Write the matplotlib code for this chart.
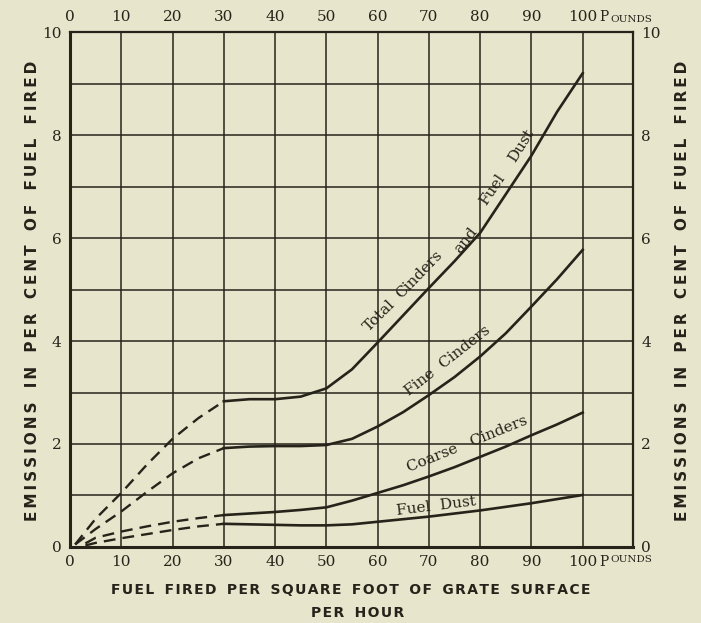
#Cinder and dust emissions against rate of firing.
from matplotlib import pyplot as plt

#Values.
x_dash = [1, 5, 10, 15, 20, 25, 30]
total_dash = [0.05, 0.55, 1.05, 1.6, 2.1, 2.5, 2.83]
fine_dash = [0.05, 0.35, 0.69, 1.07, 1.43, 1.72, 1.92]
x_dash_low = [3, 5, 10, 15, 20, 25, 30]
coarse_dash = [0.07, 0.18, 0.3, 0.4, 0.49, 0.56, 0.62]
dust_dash = [0.03, 0.08, 0.17, 0.25, 0.33, 0.4, 0.45]

x_solid = [30, 35, 40, 45, 50, 55, 60, 65, 70, 75, 80, 85, 90, 95, 100]
total = [2.83, 2.87, 2.87, 2.92, 3.08, 3.45, 3.97, 4.5, 5.03, 5.55, 6.1, 6.85, 7.6, 8.45, 9.2]
fine = [1.92, 1.95, 1.96, 1.96, 1.98, 2.1, 2.34, 2.62, 2.95, 3.3, 3.7, 4.15, 4.67, 5.2, 5.77]
coarse = [0.62, 0.65, 0.68, 0.72, 0.77, 0.9, 1.05, 1.2, 1.37, 1.55, 1.75, 1.95, 2.17, 2.38, 2.61]
dust = [0.45, 0.44, 0.43, 0.42, 0.42, 0.44, 0.49, 0.54, 0.59, 0.65, 0.71, 0.78, 0.85, 0.93, 1.01]

x_ticks = [0, 10, 20, 30, 40, 50, 60, 70, 80, 90]
y_ticks = [0, 2, 4, 6, 8, 10]

paper = '#e7e5cb'
ink = '#26241a'

fig = plt.figure(figsize=(7.01, 6.23), dpi=100, facecolor=paper)
ax = fig.add_axes([0.0999, 0.122, 0.803, 0.8266], facecolor=paper)

#Grid lines
for gx in range(10, 101, 10):
    ax.axvline(gx, color=ink, lw=1.1, zorder=1)
for gy in range(1, 10):
    ax.axhline(gy, color=ink, lw=1.1, zorder=1)

#Curves
dash = (0, (5, 3))
ax.plot(x_dash, total_dash, color=ink, lw=1.7, ls=dash, zorder=3)
ax.plot(x_dash, fine_dash, color=ink, lw=1.7, ls=dash, zorder=3)
ax.plot(x_dash_low, coarse_dash, color=ink, lw=1.7, ls=dash, zorder=3)
ax.plot(x_dash_low, dust_dash, color=ink, lw=1.7, ls=dash, zorder=3)
ax.plot(x_solid, total, color=ink, lw=1.9, zorder=3)
ax.plot(x_solid, fine, color=ink, lw=1.9, zorder=3)
ax.plot(x_solid, coarse, color=ink, lw=1.9, zorder=3)
ax.plot(x_solid, dust, color=ink, lw=1.9, zorder=3)

#Curve labels
lab = dict(family='DejaVu Serif', fontsize=11, color=ink, ha='center', va='center', zorder=4)
ax.text(60.4, 4.5, 'Total', rotation=45, **lab)
ax.text(68.2, 5.3, 'Cinders', rotation=46, **lab)
ax.text(77.2, 5.95, 'and', rotation=52, **lab)
ax.text(82.3, 6.95, 'Fuel', rotation=56, **lab)
ax.text(88.0, 7.8, 'Dust', rotation=58, **lab)
ax.text(73.6, 3.62, 'Fine  Cinders', rotation=38, **lab)
ax.text(77.5, 2.0, 'Coarse   Cinders', rotation=22, **lab)
ax.text(71.5, 0.8, 'Fuel  Dust', rotation=7, **lab)

#Axes and frame
ax.set_xlim(0, 109.8)
ax.set_ylim(0, 10)
ax.set_xticks(x_ticks)
ax.set_yticks(y_ticks)
ax.tick_params(axis='both', length=0, labelsize=11, colors=ink, pad=6,
               top=True, labeltop=True, right=True, labelright=True)
for lbl in ax.get_xticklabels() + ax.get_yticklabels():
    lbl.set_family('DejaVu Serif')
for s in ['left', 'bottom']:
    ax.spines[s].set_linewidth(2.2)
for s in ['top', 'right']:
    ax.spines[s].set_linewidth(1.6)
for s in ax.spines.values():
    s.set_color(ink)

#"100 Pounds" at top and bottom
for ypos, va in [(-0.16, 'top'), (10.16, 'bottom')]:
    ax.text(100, ypos, '100', family='DejaVu Serif', fontsize=11, color=ink,
            ha='center', va=va, clip_on=False)
    ax.text(103.2, ypos, 'P', family='DejaVu Serif', fontsize=10, color=ink,
            ha='left', va=va, clip_on=False)
    ax.text(105.4, ypos, 'OUNDS', family='DejaVu Serif', fontsize=7.5, color=ink,
            ha='left', va=va, clip_on=False)

#Axis titles, letters spread with small spaces
def spread(s, gap, wordgap):
    return wordgap.join(gap.join(w) for w in s.split(' '))

ytitle = spread('EMISSIONS IN PER CENT OF FUEL FIRED', '\u2009', ' \u2009\u2009\u2009')
fig.text(0.047, 0.533, ytitle, rotation=90, ha='center', va='center',
         fontsize=11, fontweight='bold', color=ink)
fig.text(0.973, 0.533, ytitle, rotation=90, ha='center', va='center',
         fontsize=11, fontweight='bold', color=ink)
fig.text(0.500, 0.053, spread('FUEL FIRED PER SQUARE FOOT OF GRATE SURFACE', '\u200a', ' \u2009\u2009'),
         ha='center', va='center', fontsize=10, fontweight='bold', color=ink)
fig.text(0.51, 0.016, spread('PER HOUR', '\u200a', ' \u2009\u2009'), ha='center', va='center',
         fontsize=10, fontweight='bold', color=ink)

plt.savefig('out.png', dpi=100, facecolor=paper)
